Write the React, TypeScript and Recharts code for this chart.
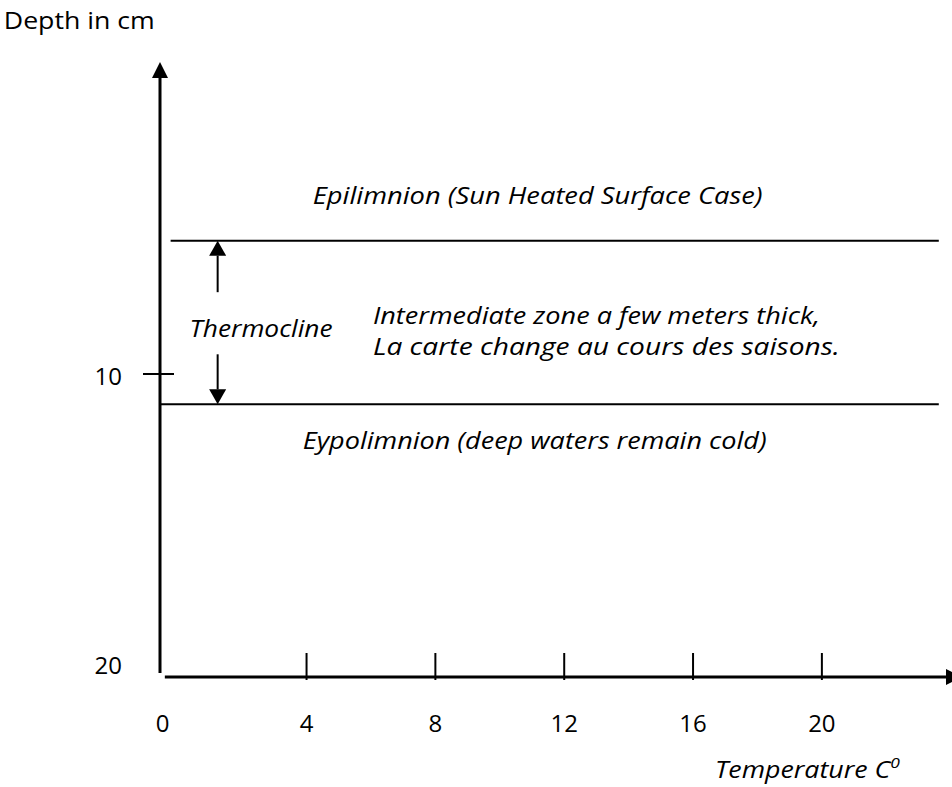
import React from 'react';
import { ComposedChart, XAxis, YAxis, ReferenceLine, ReferenceDot } from 'recharts';

// axis ticks
const tempTicks = [0, 4, 8, 12, 16, 20];
const depthTicks = [10, 20];
// depth (cm) of the two layer boundaries
const layerDepths = [5.6, 11];
// thermocline arrow column (temperature units) and the arrow ends
const thermoX = 1.24;
const thermoArrows = [
  { from: 7.3, to: 5.6 },
  { from: 9.35, to: 11 },
];

const FONT = '"Open Sans", "Noto Sans", sans-serif';
const AXIS_X = -0.55; // where the depth axis is drawn

// line with a filled triangular head at its (x2, y2) end
const arrowShape = (headLen: number, headW: number, sw: number) => (props: any) => {
  const { x1, y1, x2, y2 } = props;
  const dx = x2 - x1;
  const dy = y2 - y1;
  const len = Math.sqrt(dx * dx + dy * dy) || 1;
  const ux = dx / len;
  const uy = dy / len;
  const bx = x2 - ux * headLen;
  const by = y2 - uy * headLen;
  const px = -uy * (headW / 2);
  const py = ux * (headW / 2);
  return (
    <g>
      <line x1={x1} y1={y1} x2={bx} y2={by} stroke="#000" strokeWidth={sw} />
      <polygon points={`${x2},${y2} ${bx + px},${by + py} ${bx - px},${by - py}`} fill="#000" />
    </g>
  );
};

const note = (text: React.ReactNode, width?: number, italic = true, size = 23) => (p: any) => (
  <text
    x={p.cx}
    y={p.cy}
    fontFamily={FONT}
    fontSize={size}
    fontStyle={italic ? 'italic' : 'normal'}
    fill="#000"
    textLength={width}
    lengthAdjust="spacingAndGlyphs"
  >
    {text}
  </text>
);

const TempTick = (props: any) => {
  const { x, y, payload } = props;
  const v = payload.value;
  return (
    <g>
      {v !== 0 && <line x1={x} y1={y - 24} x2={x} y2={y + 3} stroke="#000" strokeWidth={2} />}
      <text x={x + (v === 0 ? -15 : 0)} y={y + 55} textAnchor="middle" fontFamily={FONT} fontSize={24} fill="#000">
        {v}
      </text>
    </g>
  );
};

const DepthTick = (props: any) => {
  const { x, y, payload } = props;
  const v = payload.value;
  const last = v === depthTicks[depthTicks.length - 1];
  return (
    <g>
      {!last && <line x1={x - 17} y1={y} x2={x + 14} y2={y} stroke="#000" strokeWidth={2} />}
      <text x={x - 38} y={last ? y - 3 : y + 11} textAnchor="end" fontFamily={FONT} fontSize={24} fill="#000">
        {v}
      </text>
    </g>
  );
};

export default function App() {
  const data = tempTicks.map((t) => ({ temp: t }));
  return (
    <div style={{ position: 'absolute', left: 0, top: 0, width: 952, height: 787, background: '#fff' }}>
      <ComposedChart width={952} height={787} data={data} margin={{ top: 71, right: 0, bottom: 109, left: 0 }}>
        <XAxis
          dataKey="temp"
          type="number"
          domain={[AXIS_X, 24.04]}
          allowDataOverflow
          ticks={tempTicks}
          axisLine={false}
          tickLine={false}
          tickSize={0}
          tickMargin={0}
          height={1}
          tick={<TempTick />}
          interval={0}
        />
        <YAxis
          type="number"
          domain={[0, 20]}
          allowDataOverflow
          reversed
          ticks={depthTicks}
          axisLine={false}
          tickLine={false}
          tickSize={0}
          tickMargin={0}
          width={160}
          tick={<DepthTick />}
          interval={0}
        />

        {/* axes with arrows */}
        <ReferenceLine
          segment={[{ x: AXIS_X, y: 19.87 }, { x: AXIS_X, y: -0.3 }]}
          ifOverflow="visible"
          shape={arrowShape(16, 16, 3)}
        />
        <ReferenceLine
          segment={[{ x: -0.4, y: 20 }, { x: 24.35, y: 20 }]}
          ifOverflow="visible"
          shape={arrowShape(16, 16, 3)}
        />

        {/* layer boundaries */}
        {layerDepths.map((d, i) => (
          <ReferenceLine
            key={`layer-${i}`}
            segment={[{ x: i === 0 ? -0.22 : AXIS_X, y: d }, { x: 23.63, y: d }]}
            stroke="#000"
            strokeWidth={2}
            ifOverflow="visible"
          />
        ))}

        {/* thermocline arrows */}
        {thermoArrows.map((a, i) => (
          <ReferenceLine
            key={`arrow-${i}`}
            segment={[{ x: thermoX, y: a.from }, { x: thermoX, y: a.to }]}
            ifOverflow="visible"
            shape={arrowShape(15, 17, 2)}
          />
        ))}

        {/* text annotations */}
        <ReferenceDot x={-5.4} y={-1.39} r={1} ifOverflow="visible" shape={note('Depth in cm', 151, false)} />
        <ReferenceDot x={4.19} y={4.39} r={1} ifOverflow="visible" shape={note('Epilimnion (Sun Heated Surface Case)', 450)} />
        <ReferenceDot x={0.37} y={8.78} r={1} ifOverflow="visible" shape={note('Thermocline', 143)} />
        <ReferenceDot x={6.06} y={8.35} r={1} ifOverflow="visible" shape={note('Intermediate zone a few meters thick,', 447)} />
        <ReferenceDot x={6.06} y={9.37} r={1} ifOverflow="visible" shape={note('La carte change au cours des saisons.', 467)} />
        <ReferenceDot x={3.88} y={12.47} r={1} ifOverflow="visible" shape={note('Eypolimnion (deep waters remain cold)', 464)} />
        <ReferenceDot
          x={16.68}
          y={23.33}
          r={1}
          ifOverflow="visible"
          shape={note(
            <>
              Temperature C<tspan dy={-10} fontSize={15}>0</tspan>
            </>,
            185
          )}
        />
      </ComposedChart>
    </div>
  );
}
